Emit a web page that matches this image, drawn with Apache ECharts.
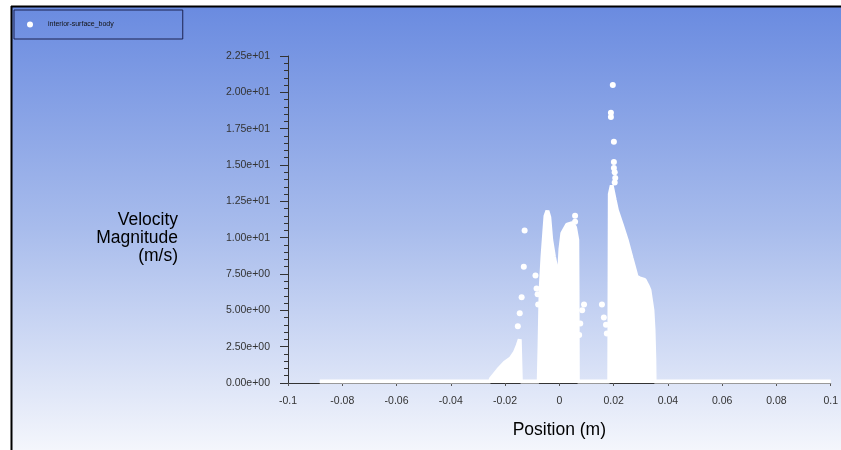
<!DOCTYPE html>
<html>
<head>
<meta charset="utf-8">
<script src="https://cdn.jsdelivr.net/npm/echarts@6/dist/echarts.min.js"></script>
<style>
  html, body { margin: 0; padding: 0; background: #fff; }
  #chart { width: 841px; height: 450px; }
</style>
</head>
<body>
<div id="chart"></div>
<script>
const seriesName = 'interior-surface_body'

// outline of the dense white point clouds (position m, velocity m/s)
const cloudX = [-0.0883, -0.0255, -0.0252, -0.0226, -0.0201, -0.0179, -0.0164, -0.0153, -0.0146, -0.0142,
  -0.0076, -0.0073, -0.0069, -0.0062, -0.0055, -0.0051, -0.0044, -0.0037, -0.0030, -0.0020, -0.0008,
  0.0000, 0.0004, 0.0011, 0.0029, 0.0047, 0.0058, 0.0066, 0.0067, 0.0068,
  0.0184, 0.0186, 0.0193, 0.0204, 0.0212, 0.0230, 0.0248, 0.0266, 0.0285, 0.0296, 0.0314,
  0.0325, 0.0332, 0.0343, 0.0347, 0.0350, 0.0351, 0.1]
const cloudY = [0.1, 0.1, 0.3, 0.9, 1.4, 1.7, 2.1, 2.6, 3.0, 0.1,
  0.1, 2.5, 6.4, 8.7, 10.5, 11.5, 11.85, 11.4, 9.85, 8.7, 7.6,
  7.8, 9.2, 10.3, 10.9, 11.0, 10.7, 9.85, 6.4, 0.1,
  0.1, 13.0, 13.6, 12.6, 11.9, 10.9, 9.85, 8.6, 7.3, 7.2, 7.1,
  6.7, 6.4, 5.0, 3.65, 1.6, 0.1, 0.1]

// isolated points
const dotX = [-0.0153, -0.0146, -0.0139, -0.0131, -0.0128,
  -0.0088, -0.0084, -0.0080, -0.0078,
  0.0058, 0.0058,
  0.0091, 0.0084, 0.0077, 0.0073,
  0.0157, 0.0164, 0.0172, 0.0175,
  0.0197, 0.0190, 0.0190, 0.0201, 0.0201, 0.0201, 0.0204, 0.0206, 0.0204]
const dotY = [3.9, 4.8, 5.9, 8.0, 10.5,
  7.4, 6.5, 6.1, 5.4,
  11.5, 11.1,
  5.4, 5.0, 4.1, 3.3,
  5.4, 4.5, 4.0, 3.4,
  20.5, 18.6, 18.3, 16.6, 15.2, 14.8, 14.5, 14.1, 13.8]

const pair = (xs, ys) => xs.map((x, i) => [x, ys[i]])

const fmtSci = v => {
  const [m, e] = v.toExponential(2).split('e')
  const n = Math.abs(parseInt(e, 10))
  return m + 'e' + (e[0] === '-' ? '-' : '+') + (n < 10 ? '0' + n : n)
}

const chart = echarts.init(document.getElementById('chart'))
chart.setOption({
  animation: false,
  textStyle: { fontFamily: 'Liberation Sans, Arial, sans-serif' },
  graphic: [
    {
      type: 'rect', z: -10, silent: true,
      shape: { x: 12, y: 7, width: 829, height: 443 },
      style: {
        fill: new echarts.graphic.LinearGradient(0, 0, 0, 1, [
          { offset: 0, color: '#6a8be0' },
          { offset: 0.5, color: '#a8bcec' },
          { offset: 1, color: '#f4f6fc' }
        ])
      }
    },
    { type: 'line', z: 10, silent: true, shape: { x1: 11, y1: 6.5, x2: 841, y2: 6.5 }, style: { stroke: '#000', lineWidth: 2 } },
    { type: 'line', z: 10, silent: true, shape: { x1: 11.5, y1: 6, x2: 11.5, y2: 450 }, style: { stroke: '#000', lineWidth: 2 } },
    {
      type: 'text', z: 10, silent: true, x: 178, y: 238,
      style: {
        text: 'Velocity\nMagnitude\n(m/s)', fill: '#000', fontSize: 17.5, lineHeight: 18,
        align: 'right', verticalAlign: 'middle', fontFamily: 'Liberation Sans, Arial, sans-serif'
      }
    }
  ],
  legend: {
    left: 14,
    top: 10,
    padding: [11, 69, 11, 13],
    borderColor: '#1c2350',
    borderWidth: 1,
    itemWidth: 6,
    itemHeight: 6,
    data: [{ name: seriesName, icon: 'circle' }],
    textStyle: { fontSize: 7, color: '#111', padding: [0, 0, 0, 10] }
  },
  grid: { left: 288, right: 5, top: 56, bottom: 67 },
  xAxis: {
    type: 'value',
    min: -0.1,
    max: 0.1,
    interval: 0.02,
    name: 'Position (m)',
    nameLocation: 'middle',
    nameGap: 38,
    nameTextStyle: { fontSize: 17.5, color: '#000' },
    splitLine: { show: false },
    axisLine: { onZero: false, lineStyle: { color: '#333' } },
    axisTick: { length: 3, lineStyle: { color: '#555' } },
    axisLabel: { fontSize: 10.5, color: '#333', margin: 13 }
  },
  yAxis: {
    type: 'value',
    min: 0,
    max: 22.5,
    interval: 2.5,
    splitLine: { show: false },
    axisLine: { show: true, onZero: false, lineStyle: { color: '#333' } },
    axisTick: { show: true, length: 8, lineStyle: { color: '#333' } },
    minorTick: { show: true, splitNumber: 5, length: 4, lineStyle: { color: '#333' } },
    axisLabel: { fontSize: 10.5, color: '#333', margin: 18, formatter: fmtSci }
  },
  series: [
    {
      name: seriesName,
      type: 'line',
      data: pair(cloudX, cloudY),
      showSymbol: false,
      symbol: 'circle',
      clip: false,
      itemStyle: { color: '#fff' },
      lineStyle: { color: '#fff', width: 4 },
      areaStyle: { color: '#fff', opacity: 1 }
    },
    {
      name: seriesName,
      type: 'scatter',
      data: pair(dotX, dotY),
      symbolSize: 6,
      itemStyle: { color: '#fff', opacity: 1 }
    }
  ]
})
</script>
</body>
</html>
